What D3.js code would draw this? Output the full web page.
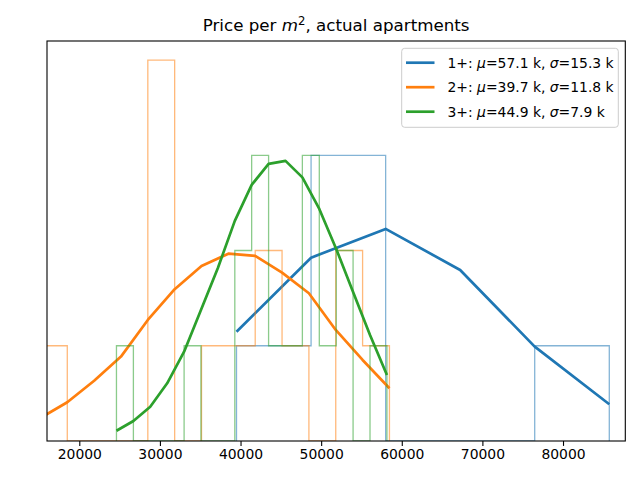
<!DOCTYPE html>
<html>
<head>
<meta charset="utf-8">
<script src="https://cdn.jsdelivr.net/npm/d3@7"></script>
<style>
  body { margin: 0; background: white; }
  svg { font-family: "DejaVu Sans", sans-serif; }
</style>
</head>
<body>
<div id="chart"></div>
<script>
// bin edges and counts of each histogram
const edges1 = [39500, 48750, 58000, 67240, 76490, 85740];
const counts1 = [1, 3, 0, 0, 1];
const edges2 = [15180, 18510, 21840, 25170, 28500, 31830, 35160, 38490, 41820, 45150, 48480, 51810, 55140, 58470];
const counts2 = [1, 0, 0, 0, 4, 0, 1, 1, 2, 1, 0, 2, 1];
const edges3 = [24610, 26710, 28800, 30900, 33000, 35090, 37190, 39290, 41380, 43480, 45580, 47670, 49770, 51870, 53960, 56060, 58160];
const counts3 = [1, 0, 0, 0, 1, 0, 0, 2, 3, 1, 1, 3, 1, 2, 0, 1];

// fitted normal curves, evaluated at bin edges
const fit1 = [1.148, 1.925, 2.227, 1.796, 0.991, 0.386];
const fit2 = [0.242, 0.407, 0.633, 0.886, 1.271, 1.594, 1.838, 1.967, 1.943, 1.768, 1.551, 1.166, 0.851, 0.554];
const fit3 = [0.108, 0.210, 0.360, 0.606, 0.938, 1.376, 1.817, 2.311, 2.689, 2.910, 2.941, 2.768, 2.437, 2.017, 1.565, 1.113, 0.693];

const labels = ["1+", "2+", "3+"];
const mus = ["57.1", "39.7", "44.9"];
const sigmas = ["15.3", "11.8", "7.9"];
const xTicks = [20000, 30000, 40000, 50000, 60000, 70000, 80000];

const colors = ["#1f77b4", "#ff7f0e", "#2ca02c"];
const groups = [
    { edges: edges1, counts: counts1, fit: fit1 },
    { edges: edges2, counts: counts2, fit: fit2 },
    { edges: edges3, counts: counts3, fit: fit3 }
];

const width = 640, height = 480;
const margin = { top: 41, right: 14.7, bottom: 39, left: 47 };

const x = d3.scaleLinear()
    .domain([15994, 87726])
    .range([margin.left, width - margin.right]);

const y = d3.scaleLinear()
    .domain([0, 4.2])
    .range([height - margin.bottom, margin.top]);

const svg = d3.select("#chart")
    .append("svg")
    .attr("width", width)
    .attr("height", height);

svg.append("clipPath")
    .attr("id", "plot-clip")
    .append("rect")
    .attr("x", margin.left)
    .attr("y", margin.top)
    .attr("width", width - margin.left - margin.right)
    .attr("height", height - margin.top - margin.bottom);

const plot = svg.append("g").attr("clip-path", "url(#plot-clip)");

const line = d3.line().x(d => x(d[0])).y(d => y(d[1]));

groups.forEach((g, i) => {
    // step outline of the histogram
    let pts = [[g.edges[0], 0]];
    g.counts.forEach((c, j) => {
        pts.push([g.edges[j], c]);
        pts.push([g.edges[j + 1], c]);
    });
    pts.push([g.edges[g.edges.length - 1], 0]);

    plot.append("path")
        .attr("d", line(pts))
        .attr("fill", "none")
        .attr("stroke", colors[i])
        .attr("stroke-opacity", 0.55)
        .attr("stroke-width", 1.3);

    plot.append("path")
        .attr("d", line(g.edges.map((e, j) => [e, g.fit[j]])))
        .attr("fill", "none")
        .attr("stroke", colors[i])
        .attr("stroke-width", 2.7)
        .attr("stroke-linejoin", "round");
});

// x axis
const xAxis = svg.append("g")
    .attr("transform", `translate(0,${height - margin.bottom})`)
    .call(d3.axisBottom(x).tickValues(xTicks).tickFormat(d3.format("d")).tickSize(4.9).tickPadding(3.5));
xAxis.select(".domain").remove();
xAxis.selectAll(".tick line").attr("stroke", "black").attr("stroke-width", 1.1);
xAxis.selectAll(".tick text")
    .attr("fill", "black")
    .style("font-size", "13.9px")
    .style("font-family", "DejaVu Sans");

// frame
svg.append("rect")
    .attr("x", margin.left)
    .attr("y", margin.top)
    .attr("width", width - margin.left - margin.right)
    .attr("height", height - margin.top - margin.bottom)
    .attr("fill", "none")
    .attr("stroke", "black")
    .attr("stroke-width", 1.1);

// title
const title = svg.append("text")
    .attr("x", (margin.left + width - margin.right) / 2)
    .attr("y", 31)
    .attr("text-anchor", "middle")
    .style("font-size", "16.7px")
    .attr("fill", "black");
title.append("tspan").text("Price per ");
title.append("tspan").style("font-style", "italic").text("m");
title.append("tspan").attr("dy", -6).style("font-size", "11.7px").text("2");
title.append("tspan").attr("dy", 6).text(", actual apartments");

// legend
const legend = svg.append("g");
legend.append("rect")
    .attr("x", 401.7)
    .attr("y", 48.3)
    .attr("width", 216.6)
    .attr("height", 79)
    .attr("rx", 3)
    .attr("fill", "white")
    .attr("fill-opacity", 0.8)
    .attr("stroke", "#cccccc")
    .attr("stroke-width", 1);

labels.forEach((lab, i) => {
    const ly = 62.7 + i * 24.5;
    legend.append("line")
        .attr("x1", 406).attr("x2", 434.5)
        .attr("y1", ly).attr("y2", ly)
        .attr("stroke", colors[i])
        .attr("stroke-width", 2.7);
    const t = legend.append("text")
        .attr("x", 447.5)
        .attr("y", ly + 5)
        .style("font-size", "13.9px")
        .attr("fill", "black");
    t.append("tspan").text(lab + ": ");
    t.append("tspan").style("font-style", "italic").text("\u03bc");
    t.append("tspan").text("=" + mus[i] + " k, ");
    t.append("tspan").style("font-style", "italic").text("\u03c3");
    t.append("tspan").text("=" + sigmas[i] + " k");
});
</script>
</body>
</html>
